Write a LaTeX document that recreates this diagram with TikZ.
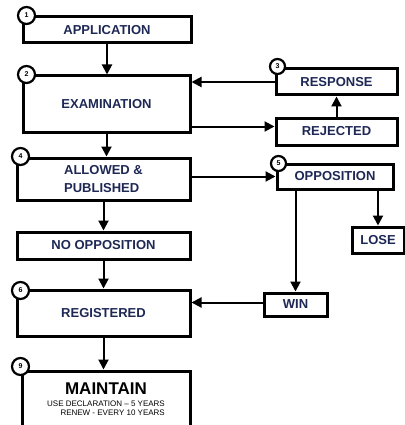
\documentclass[tikz,border=0pt]{standalone}
\usepackage{fontspec}
\setmainfont{Liberation Sans}
\usetikzlibrary{arrows.meta}
\definecolor{labelblue}{RGB}{30,40,85}

\begin{document}
\begin{tikzpicture}[x=1pt,y=-1pt,
    stage/.style={draw,line width=3pt,inner sep=0pt,text=labelblue,align=center,
      font=\fontsize{13}{18}\selectfont\bfseries},
    num/.style={circle,draw,line width=2.2pt,fill=white,inner sep=0pt,minimum size=17pt,
      font=\fontsize{7}{7}\selectfont\bfseries},
    flow/.style={line width=2pt,-{Triangle[length=10pt,width=10pt]}}]
    \useasboundingbox (0,0) rectangle (404,425);
    % left column
    \node[stage,minimum width=168pt,minimum height=26pt] (app) at (107,30) {APPLICATION};
    \node[stage,minimum width=167pt,minimum height=56pt] (exam) at (106.5,104) {EXAMINATION};
    \node[stage,minimum width=173pt,minimum height=42pt,align=left] (allow) at (103.5,179) {ALLOWED \&\\PUBLISHED};
    \node[stage,minimum width=173pt,minimum height=27pt] (noopp) at (103.5,245.5) {NO OPPOSITION};
    \node[stage,minimum width=173pt,minimum height=46pt] (reg) at (103.5,313) {REGISTERED};
    \node[stage,minimum width=168pt,minimum height=64pt,text=black] (maint) at (106,403)
        {{\fontsize{17}{18}\selectfont MAINTAIN}\\[-2pt]
         {\fontsize{8}{9.5}\selectfont\mdseries\begin{tabular}{@{}r@{}}USE DECLARATION – 5 YEARS\\RENEW - EVERY 10 YEARS\end{tabular}}\rule[-12pt]{0pt}{0pt}};
    % right column
    \node[stage,minimum width=121pt,minimum height=26pt] (resp) at (336.5,82) {RESPONSE};
    \node[stage,minimum width=121pt,minimum height=27pt] (rej) at (336.5,131.5) {REJECTED};
    \node[stage,minimum width=116pt,minimum height=25pt] (opp) at (335,176.5) {OPPOSITION};
    \node[stage,minimum width=52pt,minimum height=26pt] (lose) at (378,240) {LOSE};
    \node[stage,minimum width=63pt,minimum height=23pt] (win) at (295.5,304.5) {WIN};
    % step numbers
    \node[num] (n1) at (app.north west) [xshift=5pt] {1};
    \node[num] (n2) at (exam.north west) [xshift=5pt] {2};
    \node[num,minimum size=15pt] (n3) at (resp.north west) [xshift=3pt,yshift=1pt] {3};
    \node[num] (n4) at (allow.north west) [xshift=5pt] {4};
    \node[num,minimum size=15pt] (n5) at (opp.north west) [xshift=3pt,yshift=-1pt] {5};
    \node[num] (n6) at (reg.north west) [xshift=5pt,yshift=-2pt] {6};
    \node[num] (n9) at (maint.north west) [yshift=3pt] {9};
    % connectors
    \draw[flow] (app.south) -- (app.south |- exam.north);
    \draw[flow] (exam.south) -- (exam.south |- allow.north);
    \draw[flow] (allow.south) -- (noopp.north);
    \draw[flow] (noopp.south) -- (reg.north);
    \draw[flow] (reg.south) -- (reg.south |- maint.north);
    \draw[flow] (resp.west) -- (resp.west -| exam.east);
    \draw[flow] ([yshift=5pt]rej.west -| exam.east) -- ([yshift=5pt]rej.west);
    \draw[flow] (rej.north) -- (resp.south);
    \draw[flow] (opp.west -| allow.east) -- (opp.west);
    \draw[flow] (lose.north |- opp.south) -- (lose.north);
    \draw[flow] (win.north |- opp.south) -- (win.north);
    \draw[flow] ([yshift=2pt]win.west) -- ([yshift=2pt]win.west -| reg.east);
\end{tikzpicture}
\end{document}
